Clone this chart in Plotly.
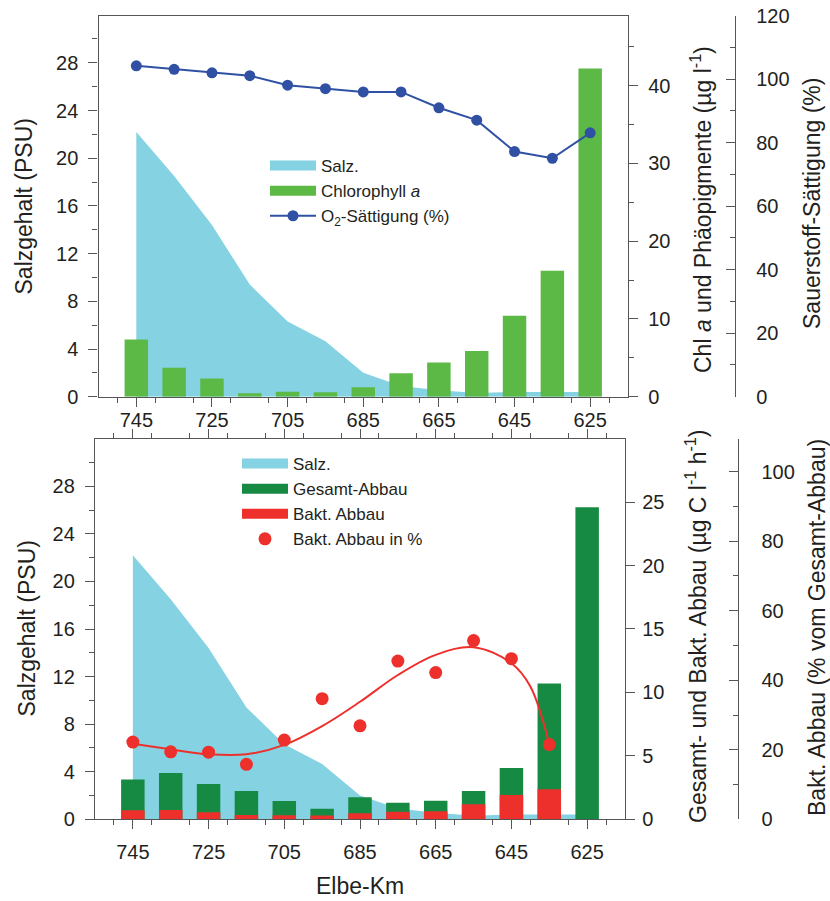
import plotly.graph_objects as go

# ---------------- data ----------------
km = [745, 735, 725, 715, 705, 695, 685, 675, 665, 655, 645, 635, 625]
salinity = [22.2, 18.5, 14.4, 9.4, 6.3, 4.65, 2.0, 0.9, 0.55, 0.3, 0.4, 0.4, 0.4]
chlorophyll = [7.35, 3.72, 2.35, 0.43, 0.64, 0.56, 1.2, 3.0, 4.4, 5.87, 10.4, 16.2, 42.2]
o2_saturation = [104.2, 103.1, 102.0, 101.1, 98.1, 97.0, 96.0, 96.0, 91.0, 87.1, 77.2, 75.1, 83.1]
gesamt_abbau = [3.13, 3.65, 2.79, 2.23, 1.45, 0.84, 1.74, 1.31, 1.47, 2.23, 4.05, 10.7, 24.6]
bakt_abbau = [0.71, 0.74, 0.55, 0.34, 0.32, 0.29, 0.47, 0.6, 0.63, 1.18, 1.92, 2.37, None]
bakt_pct_km = [745, 735, 725, 715, 705, 695, 685, 675, 665, 655, 645, 635]
bakt_pct = [22.2, 19.4, 19.3, 15.8, 22.8, 34.7, 26.9, 45.5, 42.2, 51.4, 46.2, 21.5]
fit_km = [745, 735, 725, 715, 705, 695, 685, 675, 665, 655, 645, 640, 635]
fit_pct = [21.7, 20.1, 18.7, 18.7, 21.4, 26.8, 33.8, 41.5, 47.3, 49.5, 44.9, 38.2, 21.7]

# ---------------- styles ----------------
FONT = "Liberation Sans, Arial, sans-serif"
TXT = "#231f20"
AXC = "#555555"
C_SALT = "#84d2e2"
C_CHL = "#5cb946"
C_GES = "#168a43"
C_BAKT = "#ee302c"
C_O2 = "#3051a3"
BARW = 6.2
W, H = 830, 901

fig = go.Figure()

# ---- top panel ----
fig.add_trace(go.Scatter(x=km, y=salinity, xaxis="x", yaxis="y", mode="lines",
                         line=dict(width=0, color=C_SALT), fill="tozeroy",
                         fillcolor=C_SALT, showlegend=False, hoverinfo="skip"))
fig.add_trace(go.Bar(x=km, y=chlorophyll, xaxis="x", yaxis="y2", width=BARW,
                     marker=dict(color=C_CHL, line=dict(width=0)), showlegend=False))
fig.add_trace(go.Scatter(x=km, y=o2_saturation, xaxis="x", yaxis="y3", mode="lines+markers",
                         line=dict(color=C_O2, width=2), marker=dict(color=C_O2, size=11),
                         name="O<sub>2</sub>-Sättigung (%)", legend="legend", legendrank=3))
# legend swatches (no data)
fig.add_trace(go.Scatter(x=[None], y=[None], xaxis="x", yaxis="y", mode="lines",
                         line=dict(color=C_SALT, width=10), name="Salz.",
                         legend="legend", legendrank=1))
fig.add_trace(go.Scatter(x=[None], y=[None], xaxis="x", yaxis="y", mode="lines",
                         line=dict(color=C_CHL, width=10), name="Chlorophyll <i>a</i>",
                         legend="legend", legendrank=2))

# ---- bottom panel ----
fig.add_trace(go.Scatter(x=km, y=salinity, xaxis="x2", yaxis="y4", mode="lines",
                         line=dict(width=0, color=C_SALT), fill="tozeroy",
                         fillcolor=C_SALT, showlegend=False, hoverinfo="skip"))
fig.add_trace(go.Bar(x=km, y=gesamt_abbau, xaxis="x2", yaxis="y5", width=BARW,
                     marker=dict(color=C_GES, line=dict(width=0)), showlegend=False))
fig.add_trace(go.Bar(x=km, y=bakt_abbau, xaxis="x2", yaxis="y5", width=BARW,
                     marker=dict(color=C_BAKT, line=dict(width=0)), showlegend=False))
fig.add_trace(go.Scatter(x=fit_km, y=fit_pct, xaxis="x2", yaxis="y6", mode="lines",
                         line=dict(color=C_BAKT, width=2, shape="spline", smoothing=1.0),
                         showlegend=False, hoverinfo="skip"))
fig.add_trace(go.Scatter(x=bakt_pct_km, y=bakt_pct, xaxis="x2", yaxis="y6", mode="markers",
                         marker=dict(color=C_BAKT, size=13), name="Bakt. Abbau in %",
                         legend="legend2", legendrank=4))
fig.add_trace(go.Scatter(x=[None], y=[None], xaxis="x2", yaxis="y4", mode="lines",
                         line=dict(color=C_SALT, width=10), name="Salz.",
                         legend="legend2", legendrank=1))
fig.add_trace(go.Scatter(x=[None], y=[None], xaxis="x2", yaxis="y4", mode="lines",
                         line=dict(color=C_GES, width=10), name="Gesamt-Abbau",
                         legend="legend2", legendrank=2))
fig.add_trace(go.Scatter(x=[None], y=[None], xaxis="x2", yaxis="y4", mode="lines",
                         line=dict(color=C_BAKT, width=10), name="Bakt. Abbau",
                         legend="legend2", legendrank=3))

# ---------------- layout ----------------
def px_x(p):
    return p / W

def px_y(p):
    return 1 - p / H

TOP_DOM = [px_y(396.7), px_y(15.7)]
BOT_DOM = [px_y(819.3), px_y(439.3)]
TOP_X = [px_x(98.5), px_x(628)]
BOT_X = [px_x(95), px_x(625)]

tickfont = dict(family=FONT, size=20, color=TXT)
common = dict(showgrid=False, zeroline=False, showline=True, linecolor=AXC, linewidth=1.3,
              tickcolor=AXC, tickwidth=1.3, tickfont=tickfont, automargin=False)

def xax(dom, anchor, mirror, standoff):
    return dict(domain=dom, anchor=anchor, range=[755, 615], tickmode="linear", tick0=745,
                dtick=20, ticks="outside", ticklen=9, mirror=mirror, ticklabelstandoff=standoff,
                minor=dict(dtick=10, ticks="outside", ticklen=5, tickcolor=AXC, tickwidth=1.3),
                **common)

def yleft(dom, anchor):
    return dict(domain=dom, anchor=anchor, range=[0, 31.95], tickmode="linear", tick0=0, dtick=4,
                ticks="outside", ticklen=9, ticklabelstandoff=6,
                minor=dict(dtick=2, ticks="outside", ticklen=5, tickcolor=AXC, tickwidth=1.3),
                **common)

LEGFONT = dict(family=FONT, size=17, color=TXT)

fig.update_layout(
    width=W, height=H, margin=dict(l=0, r=0, t=0, b=0, autoexpand=False),
    paper_bgcolor="white", plot_bgcolor="rgba(0,0,0,0)",
    barmode="overlay", font=dict(family=FONT, color=TXT),
    xaxis=xax(TOP_X, "y", True, -4),
    xaxis2=xax(BOT_X, "y4", "ticks", 6),
    yaxis=yleft(TOP_DOM, "x"),
    yaxis2=dict(overlaying="y", side="right", anchor="x", range=[0, 49], tickmode="linear",
                tick0=0, dtick=10, ticks="outside", ticklen=9, ticklabelstandoff=6,
                minor=dict(dtick=5, ticks="outside", ticklen=5, tickcolor=AXC, tickwidth=1.3),
                **common),
    yaxis3=dict(overlaying="y", side="right", anchor="free", position=px_x(735),
                range=[0, 120], tickmode="linear", tick0=0, dtick=20, ticks="inside",
                ticklen=9, ticklabelstandoff=16,
                minor=dict(dtick=10, ticks="inside", ticklen=5, tickcolor=AXC, tickwidth=1.3),
                **common),
    yaxis4=yleft(BOT_DOM, "x2"),
    yaxis5=dict(overlaying="y4", side="right", anchor="x2", range=[0, 29.95], tickmode="linear",
                tick0=0, dtick=5, ticks="outside", ticklen=9, ticklabelstandoff=3, **common),
    yaxis6=dict(overlaying="y4", side="right", anchor="free", position=px_x(738.3),
                range=[0, 109.3], tickmode="linear", tick0=0, dtick=20, ticks="inside",
                ticklen=9, ticklabelstandoff=18,
                minor=dict(dtick=10, ticks="inside", ticklen=5, tickcolor=AXC, tickwidth=1.3),
                **common),
    legend=dict(x=px_x(265), y=px_y(148), xanchor="left", yanchor="top",
                bgcolor="rgba(0,0,0,0)", font=LEGFONT,
                itemwidth=46, tracegroupgap=0, traceorder="normal"),
    legend2=dict(x=px_x(237), y=px_y(446), xanchor="left", yanchor="top",
                 bgcolor="rgba(0,0,0,0)", font=LEGFONT,
                 itemwidth=46, tracegroupgap=0, traceorder="normal"),
)

titles = [
    ("Salzgehalt (PSU)", 23.5, 207, -90),
    ("Chl <i>a</i> und Phäopigmente (µg l<sup>-1</sup>)", 701, 210, -90),
    ("Sauerstoff-Sättigung (%)", 812, 204, -90),
    ("Salzgehalt (PSU)", 26.5, 629, -90),
    ("Gesamt- und Bakt. Abbau (µg C l<sup>-1</sup> h<sup>-1</sup>)", 696, 627, -90),
    ("Bakt. Abbau (% vom Gesamt-Abbau)", 817, 628, -90),
    ("Elbe-Km", 360, 886, 0),
]
for text, x, y, ang in titles:
    fig.add_annotation(text=text, x=px_x(x), y=px_y(y), xref="paper", yref="paper",
                       xanchor="center", yanchor="middle", textangle=ang, showarrow=False,
                       font=dict(family=FONT, size=23, color=TXT))

fig.write_html("out.html")
